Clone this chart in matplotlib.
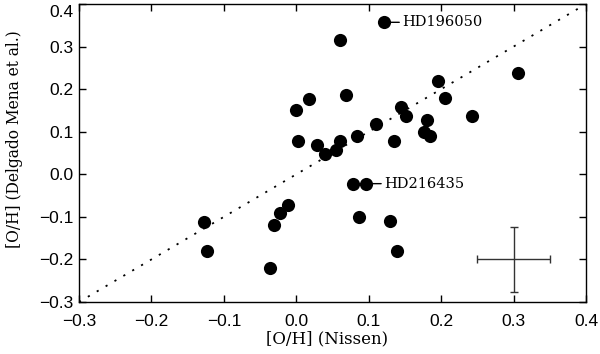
import matplotlib
matplotlib.use("Agg")
import matplotlib.pyplot as plt
from matplotlib.transforms import ScaledTranslation
import numpy as np

# Data: [O/H] Nissen (x) vs [O/H] Delgado Mena et al. (y)
x_nissen = [0.000, 0.018, 0.003, 0.029, 0.040, 0.055, 0.060, 0.061,
            0.068, 0.084, 0.110, 0.135, 0.145, 0.151, 0.180, 0.177,
            0.184, 0.196, 0.205, 0.242, 0.306, 0.121,
            0.078, 0.096, 0.086, 0.129, 0.139,
            -0.127, -0.123, -0.031, -0.022, -0.012, -0.036]
y_delgado = [0.150, 0.178, 0.078, 0.068, 0.048, 0.058, 0.079, 0.316,
             0.187, 0.089, 0.117, 0.079, 0.158, 0.138, 0.128, 0.099,
             0.089, 0.218, 0.179, 0.138, 0.238, 0.357,
             -0.022, -0.022, -0.101, -0.110, -0.181,
             -0.111, -0.180, -0.120, -0.091, -0.071, -0.220]

labels = ["HD196050", "HD216435"]
label_x = [0.121, 0.096]
label_y = [0.357, -0.022]

err_x, err_y = [0.30], [-0.20]
err_dx, err_dy = [0.05], [0.076]

one_to_one = [-0.3, 0.4]
ticks_x = [-0.3, -0.2, -0.1, 0.0, 0.1, 0.2, 0.3, 0.4]
ticks_y = [-0.3, -0.2, -0.1, 0.0, 0.1, 0.2, 0.3, 0.4]
tick_text = ["−0.3", "−0.2", "−0.1", "0.0", "0.1", "0.2", "0.3", "0.4"]

fig = plt.figure(figsize=(6.0, 3.54), dpi=100)
ax = fig.add_axes([79/600, 1 - 302/354, (586-79)/600, (302-4)/354])

ax.plot(one_to_one, one_to_one, color="black", linestyle=(0, (1.2, 4.5)), linewidth=1.3)
ax.scatter(x_nissen, y_delgado, s=90, color="black", zorder=3, linewidths=0)
ax.errorbar(err_x, err_y, xerr=err_dx, yerr=err_dy, fmt="none", ecolor="#333333",
            elinewidth=1.0, capsize=3, capthick=1.0)

for lab, lx, ly in zip(labels, label_x, label_y):
    ax.annotate(lab, xy=(lx, ly), xytext=(lx + 0.025, ly), textcoords="data",
                ha="left", va="center", fontsize=10.5, family="DejaVu Serif",
                arrowprops=dict(arrowstyle="-", color="black", lw=1.0,
                                shrinkA=0, shrinkB=0))

ax.set_xlim(-0.3, 0.4)
ax.set_ylim(-0.3, 0.4)
ax.set_xticks(ticks_x, tick_text)
ax.set_yticks(ticks_y, tick_text)
ax.tick_params(direction="in", length=5, width=1, top=True, right=True,
               labelsize=12.5, labelfontfamily="Liberation Sans")
ax.tick_params(axis="x", pad=9)
ax.tick_params(axis="y", pad=4)
for s in ax.spines.values():
    s.set_linewidth(1.0)

# top y tick label sits slightly lower, as in the reference
top_lab = ax.get_yticklabels()[-1]
top_lab.set_transform(top_lab.get_transform() + ScaledTranslation(0, -7/100, fig.dpi_scale_trans))

ax.set_xlabel("[O/H] (Nissen)", fontsize=12, family="DejaVu Serif", va="center")
ax.set_ylabel("[O/H] (Delgado Mena et al.)", fontsize=11.2, family="DejaVu Serif", va="center")
ax.xaxis.set_label_coords(0.5 - 5/507, (302 - 339)/298)
ax.yaxis.set_label_coords((15 - 79)/507, (302 - 139)/298)

fig.savefig("out.png", dpi=100)
